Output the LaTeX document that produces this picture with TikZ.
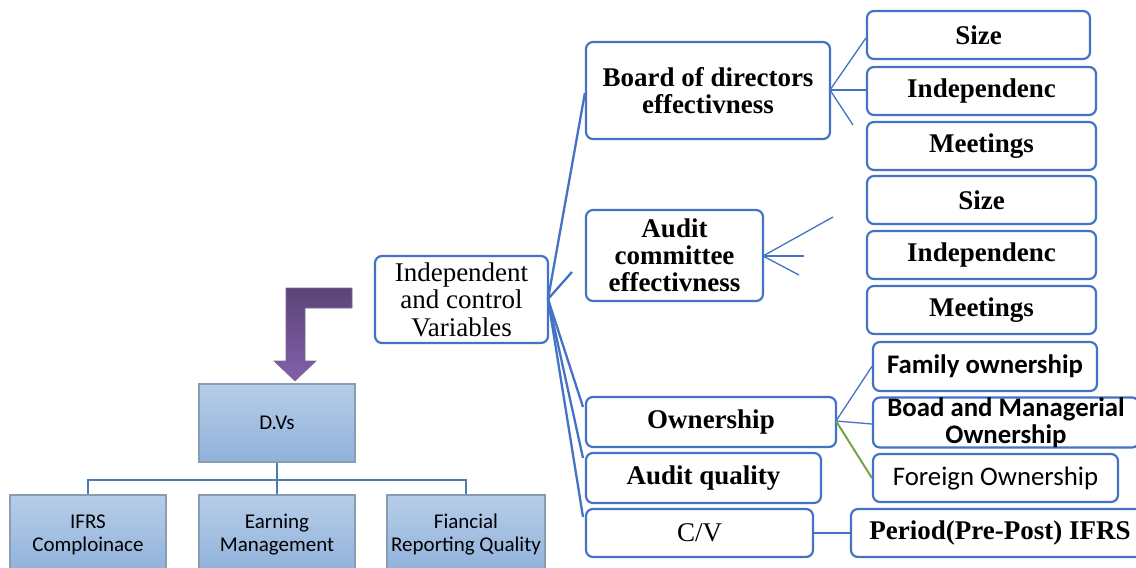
\documentclass[tikz,border=0pt]{standalone}
\usepackage{fontspec}
\setmainfont{Liberation Serif}
\newfontfamily\calfont{Carlito}
\definecolor{bb}{HTML}{4472C4}
\definecolor{gline}{HTML}{77A447}
\definecolor{tline}{HTML}{4A7EB0}
\definecolor{lbtop}{HTML}{B6CDE8}
\definecolor{lbbot}{HTML}{90B1DB}
\definecolor{lbdraw}{HTML}{8A9CB2}
\definecolor{ptop}{HTML}{5C4478}
\definecolor{pbot}{HTML}{8260AA}
\tikzset{
  rbox/.style={draw=bb, line width=2.2pt, rounded corners=7pt, fill=white, inner sep=0pt, align=center},
  bfs/.style={font=\fontsize{27}{27}\selectfont\bfseries},
  rms/.style={font=\fontsize{27}{27.5}\selectfont},
  cbs/.style={font=\calfont\fontsize{26.8}{27}\selectfont\bfseries},
  crs/.style={font=\calfont\fontsize{26.8}{27}\selectfont},
  lbox/.style={draw=lbdraw, line width=1.4pt, top color=lbtop, bottom color=lbbot, inner sep=0pt, align=center, font=\calfont\fontsize{21}{23}\selectfont},
  thick fan/.style={draw=bb, line width=2.3pt},
  thin fan/.style={draw=bb, line width=1.3pt},
  tree/.style={draw=tline, line width=2pt}
}
\begin{document}
\begin{tikzpicture}[x=1pt,y=-1pt]
\clip (0,0) rectangle (1136,568);
\fill[white] (0,0) rectangle (1136,568);

% right-hand blue boxes
\node[rbox, rms, minimum width=173pt, minimum height=87pt] (ind) at (461.5,299.5) {Independent\\and control\\Variables};
\node[rbox, bfs, minimum width=244pt, minimum height=97pt] (board) at (708,90.5) {Board of directors\\effectivness};
\node[rbox, bfs, minimum width=177pt, minimum height=91pt] (audit) at (674.5,255.5) {Audit\\committee\\effectivness};
\node[rbox, bfs, minimum width=250pt, minimum height=50pt] (own) at (711,422) {Ownership};
\node[rbox, bfs, minimum width=235pt, minimum height=50pt] (aq) at (703.5,478) {Audit quality};
\node[rbox, rms, minimum width=227pt, minimum height=48pt] (cv) at (699.5,533) {C/V};

\node[rbox, bfs, minimum width=223pt, minimum height=48pt] (s1) at (978.5,35) {Size};
\node[rbox, bfs, minimum width=229pt, minimum height=48pt] (i1) at (981.5,91) {Independenc};
\node[rbox, bfs, minimum width=229pt, minimum height=48pt] (m1) at (981.5,146) {Meetings};
\node[rbox, bfs, minimum width=229pt, minimum height=48pt] (s2) at (981.5,200) {Size};
\node[rbox, bfs, minimum width=229pt, minimum height=48pt] (i2) at (981.5,255) {Independenc};
\node[rbox, bfs, minimum width=229pt, minimum height=48pt] (m2) at (981.5,310) {Meetings};

\node[rbox, cbs, minimum width=224pt, minimum height=49pt] (fam) at (985,366.5) {Family ownership};
\node[rbox, cbs, minimum width=266pt, minimum height=49pt] (boad) at (1006,422.5) {Boad and Managerial\\Ownership};
\node[rbox, crs, minimum width=245pt, minimum height=48pt] (foreign) at (995.5,478) {Foreign Ownership};
\node[rbox, bfs, minimum width=298pt, minimum height=48pt] (period) at (1000,533) {Period(Pre-Post) IFRS};

% stub end points
\coordinate (bstub) at (853,125);
\coordinate (astub1) at (833,217);
\coordinate (astub2) at (804,256);
\coordinate (astub3) at (799,275);
\coordinate (istub) at (572,272);
\coordinate (ownend) at (583,407);
\coordinate (aqend) at (583,458);
\coordinate (cvend) at (583,517);
\coordinate (indfan) at (548,299);
\coordinate (boardfan) at (830,90);
\coordinate (auditfan) at (763,256);
\coordinate (ownfan) at (836,421);

% connectors
\draw[thick fan] (indfan) -- (board.west |- 0,93);
\draw[thick fan] (indfan) -- (istub);
\draw[thick fan] (indfan) -- (ownend);
\draw[thick fan] (indfan) -- (aqend);
\draw[thick fan] (indfan) -- (cvend);

\draw[thin fan] (boardfan) -- (s1.west |- 0,38);
\draw[thin fan] (boardfan) -- (i1.west |- 0,90);
\draw[thin fan] (boardfan) -- (bstub);

\draw[thin fan] (auditfan) -- (astub1);
\draw[thin fan] (auditfan) -- (astub2);
\draw[thin fan] (auditfan) -- (astub3);

\draw[thin fan] (ownfan) -- (fam.west);
\draw[thin fan] (ownfan) -- (boad.west |- 0,424);
\draw[draw=gline, line width=2pt] (ownfan) -- (foreign.west);

\draw[thin fan] (cv.east) -- (period.west);

% left part
\node[lbox, minimum width=156pt, minimum height=78pt] (dvs) at (277,423) {D.Vs};
\node[lbox, minimum width=156pt, minimum height=79pt] (ifrs) at (88,534.5) {IFRS\\Comploinace};
\node[lbox, minimum width=156pt, minimum height=79pt] (earn) at (277,534.5) {Earning\\Management};
\node[lbox, minimum width=158pt, minimum height=79pt] (fin) at (466,534.5) {Fiancial\\Reporting Quality};

\draw[tree] (dvs.south) -- (earn.north);
\draw[tree] (dvs.south) ++(0,17) -| (ifrs.north);
\draw[tree] (dvs.south) ++(0,17) -| (fin.north);

% purple bent arrow
\shade[top color=ptop, bottom color=pbot, draw=ptop!80!white, line width=0.6pt]
  (352,288) -- (286,288) -- (286,361) -- (274,361) -- (295,381) -- (316,361)
  -- (305,361) -- (305,308) -- (352,308) -- cycle;
\end{tikzpicture}
\end{document}
